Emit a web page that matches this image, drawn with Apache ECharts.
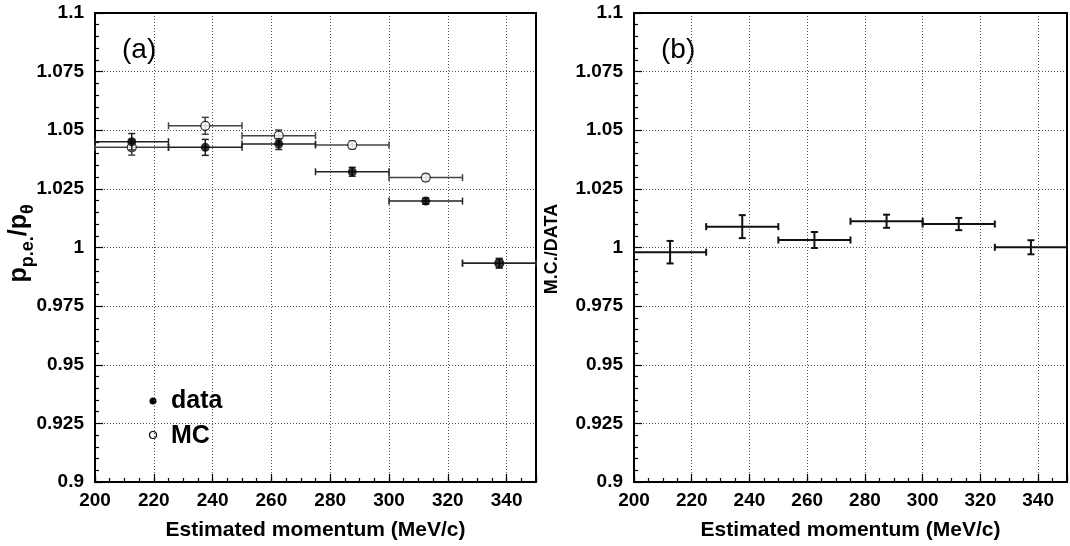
<!DOCTYPE html>
<html>
<head>
<meta charset="utf-8">
<script src="https://cdn.jsdelivr.net/npm/echarts@6/dist/echarts.min.js"></script>
<style>
  html, body { margin: 0; padding: 0; background: #fff; }
  #chart { width: 1070px; height: 546px; }
</style>
</head>
<body>
<div id="chart"></div>
<script>
// momentum bins (MeV/c)
const binCenters = [212.5, 237.5, 262.5, 287.5, 312.5, 337.5];
const binHalfWidth = [12.5, 12.5, 12.5, 12.5, 12.5, 12.5];

// (a) p_p.e./p_theta
const dataRatio = [1.0451, 1.0427, 1.0441, 1.0323, 1.0198, 0.9933];
const dataErr   = [0.0035, 0.0034, 0.0023, 0.0019, 0.0013, 0.0020];
const mcRatio   = [1.0427, 1.0519, 1.0477, 1.0437, 1.0298, 0.9933];
const mcErr     = [0.0033, 0.0036, 0.0024, 0.0016, 0.0014, 0.0020];

// (b) M.C./DATA
const mcOverData    = [0.9980, 1.0089, 1.0032, 1.0112, 1.0100, 1.0001];
const mcOverDataErr = [0.0048, 0.0049, 0.0034, 0.0028, 0.0026, 0.0030];

// tick labels
const xTicks = [200, 220, 240, 260, 280, 300, 320, 340];
const yTicks = ['0.9', '0.925', '0.95', '0.975', '1', '1.025', '1.05', '1.075', '1.1'];

const FONT = "'Liberation Sans', Arial, Helvetica, sans-serif";
const xMin = 200, xMax = 350;
const yMin = Number(yTicks[0]), yMax = Number(yTicks[yTicks.length - 1]);

const panels = [
  { left: 95, width: 441 },
  { left: 634, width: 441 }   // right part falls off the canvas, like the original
];

const chart = echarts.init(document.getElementById('chart'));

function xAxesFor(gi) {
  return [
    {
      gridIndex: gi, type: 'value', min: xMin, max: xMax, interval: xTicks[1] - xTicks[0],
      position: 'bottom',
      axisLine: { show: true, lineStyle: { color: '#000', width: 2 } },
      axisTick: { show: true, inside: true, length: 8, lineStyle: { color: '#000', width: 1.2 } },
      axisLabel: {
        margin: 9, fontSize: 19, fontWeight: 'bold', color: '#000', fontFamily: FONT,
        formatter: v => xTicks.includes(v) ? String(v) : ''
      },
      splitLine: { show: true, showMinLine: false, showMaxLine: false,
        lineStyle: { color: '#555', width: 1, type: [1, 2] } },
      name: 'Estimated momentum (MeV/c)', nameLocation: 'middle', nameGap: 38,
      nameTextStyle: { fontSize: 21, fontWeight: 'bold', color: '#000', fontFamily: FONT }
    },
    {
      // minor ticks every 5 MeV/c
      gridIndex: gi, type: 'value', min: xMin, max: xMax, interval: 5, position: 'bottom',
      axisLine: { show: false },
      axisTick: { show: true, inside: true, length: 4, lineStyle: { color: '#000', width: 1.2 } },
      axisLabel: { show: false }, splitLine: { show: false }
    },
    {
      gridIndex: gi, type: 'value', min: xMin, max: xMax, position: 'top',
      axisLine: { show: true, lineStyle: { color: '#000', width: 2 } },
      axisTick: { show: false }, axisLabel: { show: false }, splitLine: { show: false }
    }
  ];
}

function yAxesFor(gi) {
  return [
    {
      gridIndex: gi, type: 'value', min: yMin, max: yMax, interval: 0.025, position: 'left',
      axisLine: { show: true, lineStyle: { color: '#000', width: 2 } },
      axisTick: { show: true, inside: true, length: 8, lineStyle: { color: '#000', width: 1.2 } },
      minorTick: { show: true, splitNumber: 5, length: 4, lineStyle: { color: '#000', width: 1.2 } },
      axisLabel: {
        margin: 11, fontSize: 19, fontWeight: 'bold', color: '#000', fontFamily: FONT,
        formatter: v => yTicks.find(t => Math.abs(Number(t) - v) < 1e-6) || ''
      },
      splitLine: { show: true, showMinLine: false, showMaxLine: false,
        lineStyle: { color: '#555', width: 1, type: [1, 2] } }
    },
    {
      gridIndex: gi, type: 'value', min: yMin, max: yMax, position: 'right',
      axisLine: { show: true, lineStyle: { color: '#000', width: 2 } },
      axisTick: { show: false }, axisLabel: { show: false }, splitLine: { show: false }
    }
  ];
}

// horizontal bin bar + vertical error bar, both with end caps
function errorBarSeries(gi, vals, errs, color, width, z) {
  return {
    type: 'custom',
    xAxisIndex: gi * 3, yAxisIndex: gi * 2, z: z,
    data: binCenters.map((c, i) => [c, vals[i], binHalfWidth[i], errs[i]]),
    encode: { x: 0, y: 1 },
    renderItem: function (params, api) {
      const x = api.value(0), y = api.value(1), dx = api.value(2), dy = api.value(3);
      const l = api.coord([x - dx, y]), r = api.coord([x + dx, y]);
      const t = api.coord([x, y + dy]), b = api.coord([x, y - dy]);
      const cap = 3.5;
      const st = { stroke: color, lineWidth: width };
      const seg = (x1, y1, x2, y2) => ({ type: 'line', shape: { x1, y1, x2, y2 }, style: st });
      return {
        type: 'group',
        children: [
          seg(l[0], l[1], r[0], r[1]),
          seg(l[0], l[1] - cap, l[0], l[1] + cap),
          seg(r[0], r[1] - cap, r[0], r[1] + cap),
          seg(t[0], t[1], b[0], b[1]),
          seg(t[0] - cap, t[1], t[0] + cap, t[1]),
          seg(b[0] - cap, b[1], b[0] + cap, b[1])
        ]
      };
    }
  };
}

function markerSeries(gi, vals, filled, z) {
  return {
    type: 'scatter', xAxisIndex: gi * 3, yAxisIndex: gi * 2, z: z,
    symbol: 'circle', symbolSize: 9,
    itemStyle: filled ? { color: '#000' } : { color: '#fff', borderColor: '#000', borderWidth: 1.2 },
    data: binCenters.map((c, i) => [c, vals[i]])
  };
}

// piece of the rotated y title; dy > 0 pushes it down (subscript)
function titlePart(text, x, dy, size) {
  return {
    type: 'text', x: x, y: dy,
    style: { text: text, fontSize: size, fontWeight: 'bold', fontFamily: FONT, fill: '#000', verticalAlign: 'bottom' }
  };
}

const option = {
  animation: false,
  backgroundColor: '#fff',
  grid: panels.map(p => ({ left: p.left, width: p.width, top: 13, height: 469, containLabel: false })),
  xAxis: [...xAxesFor(0), ...xAxesFor(1)],
  yAxis: [...yAxesFor(0), ...yAxesFor(1)],
  series: [
    errorBarSeries(0, mcRatio, mcErr, '#444', 1.5, 2),
    markerSeries(0, mcRatio, false, 3),
    errorBarSeries(0, dataRatio, dataErr, '#222', 1.5, 4),
    markerSeries(0, dataRatio, true, 5),
    errorBarSeries(1, mcOverData, mcOverDataErr, '#111', 2, 2)
  ],
  graphic: [
    { type: 'text', x: 122, y: 50, style: { text: '(a)', fontSize: 28, fontFamily: FONT, fill: '#000', verticalAlign: 'middle' } },
    { type: 'text', x: 661, y: 50, style: { text: '(b)', fontSize: 28, fontFamily: FONT, fill: '#000', verticalAlign: 'middle' } },
    // legend
    { type: 'circle', shape: { cx: 153, cy: 401, r: 3.5 }, style: { fill: '#000' } },
    { type: 'circle', shape: { cx: 153, cy: 435, r: 3.5 }, style: { fill: '#fff', stroke: '#000', lineWidth: 1.2 } },
    { type: 'text', x: 171, y: 401, style: { text: 'data', fontSize: 25, fontWeight: 'bold', fontFamily: FONT, fill: '#000', verticalAlign: 'middle' } },
    { type: 'text', x: 171, y: 436, style: { text: 'MC', fontSize: 25, fontWeight: 'bold', fontFamily: FONT, fill: '#000', verticalAlign: 'middle' } },
    // y title (a): p_{p.e.}/p_theta, read bottom to top
    {
      type: 'group', x: 32, y: 242, rotation: Math.PI / 2,
      children: [
        titlePart('p', -40.5, 0, 25),
        titlePart('p.e.', -25.2, 5, 18),
        titlePart('/p', 5.8, 0, 25),
        titlePart('θ', 28, 5, 18)
      ]
    },
    {
      type: 'text', x: 552, y: 249, rotation: Math.PI / 2,
      style: { text: 'M.C./DATA', fontSize: 18, fontWeight: 'bold', fontFamily: FONT, fill: '#000', align: 'center', verticalAlign: 'middle' }
    }
  ]
};

chart.setOption(option);
</script>
</body>
</html>
